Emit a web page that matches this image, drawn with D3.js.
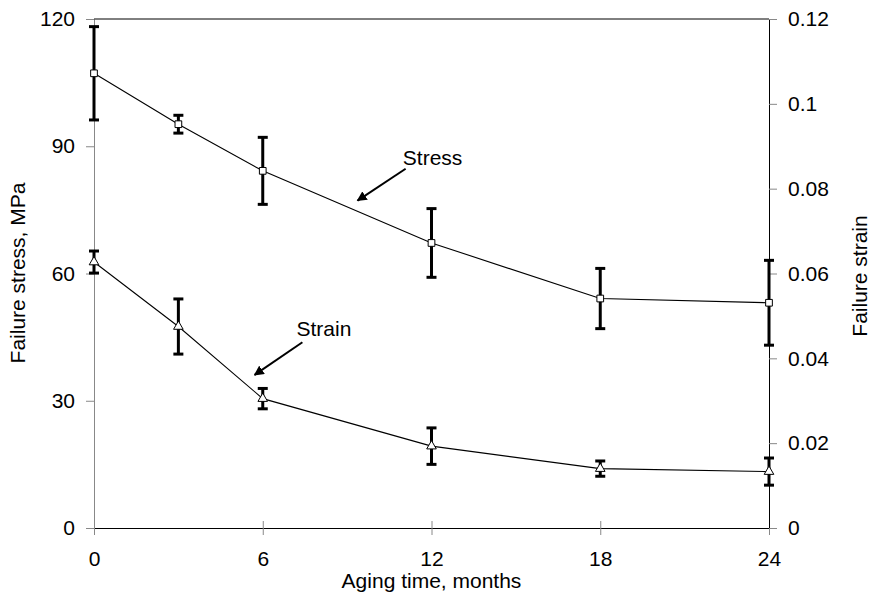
<!DOCTYPE html>
<meta charset="utf-8">
<style>
body { margin: 0; background: #fff; }
text { font-family: "Liberation Sans", Arial, sans-serif; fill: #000; }
.title { font-size: 21px; }
.note { font-size: 21px; }
</style>
<body>
<script src="https://cdn.jsdelivr.net/npm/d3@7"></script>
<script>

var months = [0, 3, 6, 12, 18, 24];
var stress = [107.2, 95.2, 84.2, 67.2, 54.1, 53.1];
var stressErr = [11, 2.1, 7.9, 8.1, 7.1, 10];
var strain = [0.0627, 0.0475, 0.0305, 0.0193, 0.0140, 0.0133];
var strainErr = [0.0026, 0.0065, 0.0024, 0.0043, 0.0018, 0.0032];

var xTicks = [0, 6, 12, 18, 24];
var stressTicks = [0, 30, 60, 90, 120];
var strainTicks = [0, 0.02, 0.04, 0.06, 0.08, 0.1, 0.12];

// annotations, in (month, MPa) units
var notes = [
  {label: "Stress", x: 10.98, y: 85.6, from: [11.08, 84.7], to: [9.37, 77.2]},
  {label: "Strain", x: 7.2, y: 45.3, from: [7.41, 43.8], to: [5.71, 36.1]}
];

var width = 874, height = 598;
var margin = {top: 19, right: 105, bottom: 70, left: 94};
var w = 769 - margin.left, h = 528 - margin.top;

var svg = d3.select("body").append("svg")
    .attr("width", width)
    .attr("height", height);

svg.append("defs").append("marker")
    .attr("id", "head")
    .attr("viewBox", "0 0 10 10")
    .attr("refX", 9).attr("refY", 5)
    .attr("markerWidth", 5).attr("markerHeight", 5)
    .attr("markerUnits", "strokeWidth")
    .attr("orient", "auto")
  .append("path")
    .attr("d", "M0,0L10,5L0,10z")
    .attr("fill", "#000");

var g = svg.append("g")
    .attr("transform", "translate(" + margin.left + "," + margin.top + ")");

var x = d3.scaleLinear().domain([0, 24]).range([0, w]);
var yL = d3.scaleLinear().domain([0, 120]).range([h, 0]);
var yR = d3.scaleLinear().domain([0, 0.12]).range([h, 0]);

// axes
var xAxis = g.append("g")
    .attr("transform", "translate(0," + h + ")")
    .call(d3.axisBottom(x).tickValues(xTicks).tickSize(7).tickPadding(16).tickSizeOuter(0));
xAxis.selectAll(".tick line").attr("y1", -7);

var leftAxis = g.append("g")
    .call(d3.axisLeft(yL).tickValues(stressTicks).tickSize(8).tickPadding(11).tickSizeOuter(0));

var rightAxis = g.append("g")
    .attr("transform", "translate(" + w + ",0)")
    .call(d3.axisRight(yR).tickValues(strainTicks).tickSize(8).tickPadding(11).tickSizeOuter(0)
      .tickFormat(function(d) { return String(+d.toFixed(2)); }));

[xAxis, leftAxis, rightAxis].forEach(function(a) {
  a.selectAll(".tick line").attr("stroke", "#888");
  a.selectAll(".tick text").style("font-size", "21px");
});
xAxis.select(".domain").attr("stroke", "#000");
leftAxis.select(".domain").attr("stroke", "#888");
rightAxis.select(".domain").attr("stroke", "#000");

g.append("line")
    .attr("x1", 0).attr("x2", w).attr("y1", 0).attr("y2", 0)
    .attr("stroke", "#000");

// titles
svg.append("text").attr("class", "title")
    .attr("x", margin.left + w / 2).attr("y", 588)
    .attr("text-anchor", "middle")
    .text("Aging time, months");

svg.append("text").attr("class", "title")
    .attr("transform", "translate(25,273) rotate(-90)")
    .attr("text-anchor", "middle")
    .text("Failure stress, MPa");

svg.append("text").attr("class", "title")
    .attr("transform", "translate(867,276) rotate(-90)")
    .attr("text-anchor", "middle")
    .text("Failure strain");

// series
function drawSeries(vals, errs, y, symType, size) {
  var pts = months.map(function(m, i) { return {m: m, v: vals[i], e: errs[i]}; });

  g.append("path")
      .datum(pts)
      .attr("fill", "none")
      .attr("stroke", "#000")
      .attr("stroke-width", 1.1)
      .attr("d", d3.line().x(function(d) { return x(d.m); }).y(function(d) { return y(d.v); }));

  var eb = g.append("g").attr("stroke", "#000").attr("stroke-width", 3);
  pts.forEach(function(d) {
    var cx = x(d.m), t = y(d.v + d.e), b = y(d.v - d.e);
    eb.append("line").attr("x1", cx).attr("x2", cx).attr("y1", t).attr("y2", b);
    eb.append("line").attr("x1", cx - 5).attr("x2", cx + 5).attr("y1", t).attr("y2", t);
    eb.append("line").attr("x1", cx - 5).attr("x2", cx + 5).attr("y1", b).attr("y2", b);
  });

  g.append("g").selectAll("path")
      .data(pts)
      .enter().append("path")
      .attr("transform", function(d) { return "translate(" + x(d.m) + "," + y(d.v) + ")"; })
      .attr("d", d3.symbol().type(symType).size(size))
      .attr("fill", "#fff")
      .attr("stroke", "#000")
      .attr("stroke-width", 1);
}

drawSeries(stress, stressErr, yL, d3.symbolSquare, 45);
drawSeries(strain, strainErr, yR, d3.symbolTriangle, 40);

// annotations
notes.forEach(function(n) {
  g.append("text").attr("class", "note")
      .attr("x", x(n.x)).attr("y", yL(n.y))
      .text(n.label);
  g.append("line")
      .attr("x1", x(n.from[0])).attr("y1", yL(n.from[1]))
      .attr("x2", x(n.to[0])).attr("y2", yL(n.to[1]))
      .attr("stroke", "#000")
      .attr("stroke-width", 2)
      .attr("marker-end", "url(#head)");
});

</script>
